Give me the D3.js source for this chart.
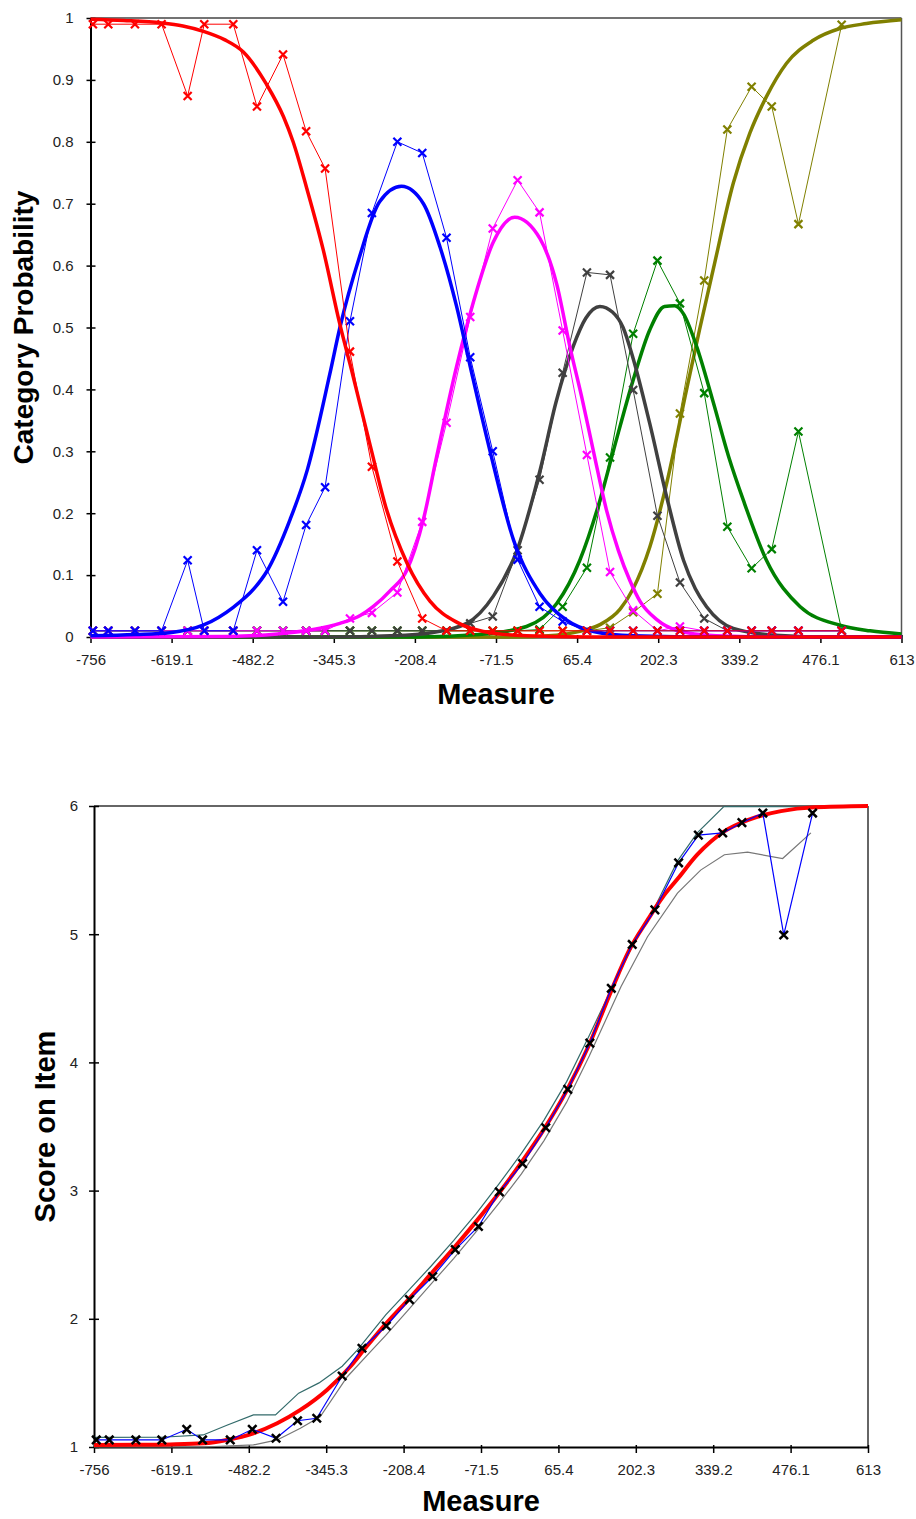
<!DOCTYPE html>
<meta charset="utf-8">
<script src="https://d3js.org/d3.v7.min.js"></script>
<style>
  body { margin: 0; background: #fff; }
</style>
<div id="chart"></div>

<script>

// shared axis ticks
var xTicks = [-756, -619.1, -482.2, -345.3, -208.4, -71.5, 65.4, 202.3, 339.2, 476.1, 613];
var xTickLabels = ["-756", "-619.1", "-482.2", "-345.3", "-208.4", "-71.5", "65.4", "202.3", "339.2", "476.1", "613"];
var probTicks = [0, 0.1, 0.2, 0.3, 0.4, 0.5, 0.6, 0.7, 0.8, 0.9, 1];
var probTickLabels = ["0", "0.1", "0.2", "0.3", "0.4", "0.5", "0.6", "0.7", "0.8", "0.9", "1"];
var scoreTicks = [1, 2, 3, 4, 5, 6];
var scoreTickLabels = ["1", "2", "3", "4", "5", "6"];

// ---- top chart: observed category frequencies
var obsMeasure = [-752, -726, -681, -636, -592, -564, -515, -475, -431, -392, -360, -318, -281, -238, -196, -155,
                  -115, -77, -35, 2, 41, 82, 121, 160, 201, 239, 280, 319, 360, 394, 439, 512];
var obsCat1 = [0.99, 0.99, 0.99, 0.99, 0.874, 0.99, 0.99, 0.857, 0.941, 0.817, 0.757, 0.461, 0.275, 0.122, 0.03, 0.01,
               0.01, 0.01, 0.01, 0.01, 0.01, 0.01, 0.01, 0.01, 0.01, 0.01, 0.01, 0.01, 0.01, 0.01, 0.01, 0.01];
var obsCat2 = [0.01, 0.01, 0.01, 0.01, 0.124, 0.01, 0.01, 0.14, 0.057, 0.181, 0.242, 0.51, 0.685, 0.80, 0.782, 0.645,
               0.452, 0.30, 0.125, 0.049, 0.025, 0.01, 0.01, 0.01, 0.01, 0.01, 0.01, 0.01, 0.01, 0.01, 0.01, 0.01];
var obsCat3 = [0.01, 0.01, 0.01, 0.01, 0.01, 0.01, 0.01, 0.01, 0.01, 0.01, 0.01, 0.03, 0.039, 0.072, 0.186, 0.346,
               0.517, 0.66, 0.738, 0.686, 0.495, 0.294, 0.105, 0.043, 0.01, 0.017, 0.01, 0.01, 0.01, 0.01, 0.01, 0.01];
var obsCat4 = [0.01, 0.01, 0.01, 0.01, 0.01, 0.01, 0.01, 0.01, 0.01, 0.01, 0.01, 0.01, 0.01, 0.01, 0.01, 0.01,
               0.022, 0.033, 0.14, 0.254, 0.427, 0.589, 0.585, 0.399, 0.196, 0.088, 0.03, 0.01, 0.01, 0.01, 0.01, 0.01];
var obsCat5 = [0.01, 0.01, 0.01, 0.01, 0.01, 0.01, 0.01, 0.01, 0.01, 0.01, 0.01, 0.01, 0.01, 0.01, 0.01, 0.01,
               0.01, 0.01, 0.01, 0.012, 0.049, 0.112, 0.29, 0.49, 0.608, 0.539, 0.394, 0.178, 0.111, 0.142, 0.332, 0.011];
var obsCat6 = [0.01, 0.01, 0.01, 0.01, 0.01, 0.01, 0.01, 0.01, 0.01, 0.01, 0.01, 0.01, 0.01, 0.01, 0.01, 0.01,
               0.01, 0.01, 0.01, 0.01, 0.01, 0.01, 0.015, 0.04, 0.07, 0.361, 0.576, 0.82, 0.889, 0.857, 0.667, 0.989];

// ---- top chart: model category probability curves [measure, probability]
var modelCat1 = [[-756, 0.998], [-700, 0.996], [-636, 0.992], [-600, 0.987], [-564, 0.978], [-530, 0.965], [-498, 0.945],
                 [-459, 0.893], [-430, 0.84], [-414, 0.80], [-391, 0.725], [-363, 0.625], [-335, 0.505], [-315, 0.43],
                 [-284, 0.31], [-256, 0.205], [-222, 0.12], [-183, 0.058], [-138, 0.024], [-93, 0.009], [-20, 0.002],
                 [100, 0], [613, 0]];
var modelCat2 = [[-756, 0.002], [-680, 0.004], [-622, 0.007], [-566, 0.019], [-515, 0.048], [-480, 0.078], [-459, 0.105],
                 [-419, 0.19], [-390, 0.27], [-352, 0.425], [-335, 0.5], [-302, 0.614], [-268, 0.703], [-231, 0.728],
                 [-194, 0.70], [-166, 0.63], [-138, 0.534], [-115, 0.437], [-82, 0.302], [-42, 0.157], [3, 0.07],
                 [48, 0.027], [93, 0.009], [160, 0.002], [300, 0], [613, 0]];
var modelCat3 = [[-756, 0], [-520, 0.001], [-440, 0.005], [-380, 0.012], [-335, 0.022], [-300, 0.035], [-279, 0.049],
                 [-250, 0.075], [-222, 0.108], [-194, 0.19], [-172, 0.29], [-138, 0.437], [-110, 0.54], [-76, 0.638],
                 [-40, 0.678], [3, 0.643], [31, 0.57], [53, 0.47], [75, 0.38], [93, 0.30], [115, 0.205], [135, 0.14],
                 [155, 0.09], [172, 0.057], [200, 0.028], [233, 0.011], [300, 0.002], [400, 0], [613, 0]];
var modelCat4 = [[-756, 0], [-350, 0], [-250, 0.002], [-180, 0.007], [-121, 0.022], [-76, 0.066], [-36, 0.14], [3, 0.27],
                 [30, 0.38], [59, 0.47], [80, 0.515], [104, 0.534], [125, 0.525], [143, 0.5], [160, 0.45], [188, 0.345],
                 [217, 0.225], [245, 0.124], [265, 0.078], [284, 0.049], [329, 0.014], [400, 0.003], [500, 0], [613, 0]];
var modelCat5 = [[-756, 0], [-200, 0], [-100, 0.004], [-20, 0.017], [31, 0.054], [70, 0.124], [104, 0.221], [127, 0.302],
                 [160, 0.415], [188, 0.496], [213, 0.534], [230, 0.535], [245, 0.522], [267, 0.47], [295, 0.38],
                 [321, 0.292], [346, 0.221], [385, 0.124], [442, 0.049], [509, 0.019], [560, 0.01], [613, 0.005]];
var modelCat6 = [[-756, 0], [-50, 0], [30, 0.003], [70, 0.009], [104, 0.02], [138, 0.045], [160, 0.078], [188, 0.145],
                 [217, 0.25], [250, 0.399], [272, 0.496], [295, 0.593], [329, 0.733], [357, 0.814], [385, 0.873],
                 [419, 0.927], [464, 0.964], [509, 0.983], [554, 0.991], [613, 0.997]];

// ---- bottom chart: expected score
var scoreMeasure = [-752, -729, -682, -636, -592, -564, -515, -476, -434, -396, -362, -317, -282, -239, -198, -157, -117,
                    -76, -39, 2, 43, 82, 121, 159, 196, 236, 278, 313, 356, 390, 427, 464, 515];
var scoreObs = [1.055, 1.055, 1.055, 1.055, 1.138, 1.055, 1.055, 1.138, 1.068, 1.205, 1.224, 1.554, 1.77, 1.944, 2.15,
                2.33, 2.54, 2.72, 2.99, 3.21, 3.49, 3.79, 4.15, 4.578, 4.92, 5.19, 5.557, 5.773, 5.79, 5.87, 5.945, 4.994, 5.945];
var scoreModel = [[-756, 1.015], [-680, 1.017], [-621, 1.02], [-562, 1.029], [-521, 1.055], [-474, 1.107], [-432, 1.185],
                  [-391, 1.289], [-344, 1.445], [-303, 1.626], [-280, 1.75], [-240, 1.96], [-200, 2.15], [-160, 2.35],
                  [-120, 2.55], [-80, 2.76], [-40, 2.98], [0, 3.22], [40, 3.48], [80, 3.78], [120, 4.14], [159, 4.56],
                  [190, 4.87], [223, 5.11], [250, 5.29], [276, 5.43], [311, 5.62], [358, 5.80], [400, 5.89], [459, 5.96],
                  [518, 5.99], [613, 6.0]];
var scoreUpper = [[-756, 1.075], [-636, 1.076], [-563, 1.094], [-521, 1.17], [-474, 1.25], [-435, 1.25], [-394, 1.42],
                  [-358, 1.50], [-317, 1.63], [-290, 1.757], [-240, 2.03], [-200, 2.22], [-160, 2.41], [-120, 2.61],
                  [-80, 2.82], [-40, 3.05], [0, 3.29], [40, 3.55], [80, 3.85], [120, 4.21], [161, 4.59], [199, 4.93],
                  [238, 5.23], [276, 5.57], [311, 5.79], [358, 5.995], [515, 5.995]];
var scoreLower = [[-756, 1.0], [-563, 1.0], [-474, 1.016], [-432, 1.055], [-391, 1.146], [-356, 1.236], [-308, 1.548],
                  [-264, 1.757], [-240, 1.87], [-200, 2.07], [-160, 2.27], [-120, 2.47], [-80, 2.68], [-40, 2.9],
                  [0, 3.13], [40, 3.39], [80, 3.69], [120, 4.05], [176, 4.59], [223, 4.98], [276, 5.32], [317, 5.50],
                  [359, 5.62], [400, 5.64], [462, 5.59], [512, 5.79]];

var font = "'Liberation Sans', Arial, sans-serif";

var svg = d3.select("#chart")
  .append("svg")
    .attr("width", 916)
    .attr("height", 1519);

function xMarks(g, data, xs, ys, color, r, w) {
  g.selectAll(null)
    .data(data)
    .enter()
    .append("path")
      .attr("transform", function(d) { return "translate(" + xs(d[0]) + "," + ys(d[1]) + ")"; })
      .attr("d", "M" + (-r) + "," + (-r) + "L" + r + "," + r + "M" + (-r) + "," + r + "L" + r + "," + (-r))
      .attr("fill", "none")
      .attr("stroke", color)
      .attr("stroke-width", w);
}

function styleAxis(ax) {
  ax.attr("font-family", font).attr("font-size", 15);
  ax.select(".domain").attr("stroke", "#000").attr("stroke-width", 2);
  ax.selectAll(".tick line").attr("stroke", "#000").attr("stroke-width", 1.5);
  ax.selectAll(".tick text").attr("fill", "#222");
}

// ================= top chart =================
var g1 = svg.append("g");
var x1 = d3.scaleLinear().domain([-756, 613]).range([90.5, 901.5]);
var y1 = d3.scaleLinear().domain([0, 1]).range([637, 18]);

g1.append("line")
  .attr("x1", x1(-756)).attr("x2", x1(613)).attr("y1", y1(1)).attr("y2", y1(1))
  .attr("stroke", "#444").attr("stroke-width", 1.5);
g1.append("line")
  .attr("x1", x1(613)).attr("x2", x1(613)).attr("y1", y1(1)).attr("y2", y1(0))
  .attr("stroke", "#555").attr("stroke-width", 1.5);

var xa1 = g1.append("g")
  .attr("transform", "translate(0," + y1(0) + ")")
  .call(d3.axisBottom(x1).tickValues(xTicks).tickFormat(function(d, i) { return xTickLabels[i]; })
    .tickSizeInner(6).tickSizeOuter(0).tickPadding(11));
styleAxis(xa1);
xa1.selectAll(".tick line").attr("y1", -2);

var ya1 = g1.append("g")
  .attr("transform", "translate(" + x1(-756) + ",0)")
  .call(d3.axisLeft(y1).tickValues(probTicks).tickFormat(function(d, i) { return probTickLabels[i]; })
    .tickSizeInner(4).tickSizeOuter(0).tickPadding(13));
styleAxis(ya1);
ya1.selectAll(".tick line").attr("x1", 5);

var cats = [
  {obs: obsCat6, model: modelCat6, color: "#808000"},
  {obs: obsCat5, model: modelCat5, color: "#008000"},
  {obs: obsCat4, model: modelCat4, color: "#404040"},
  {obs: obsCat3, model: modelCat3, color: "#ff00ff"},
  {obs: obsCat2, model: modelCat2, color: "#0000ff"},
  {obs: obsCat1, model: modelCat1, color: "#ff0000"}
];

var modelLine1 = d3.line()
  .x(function(d) { return x1(d[0]); })
  .y(function(d) { return y1(d[1]); })
  .curve(d3.curveMonotoneX);
var obsLine1 = d3.line()
  .x(function(d) { return x1(d[0]); })
  .y(function(d) { return y1(d[1]); });

cats.forEach(function(c) {
  var pts = obsMeasure.map(function(m, i) { return [m, c.obs[i]]; });
  g1.append("path")
    .attr("d", modelLine1(c.model))
    .attr("fill", "none")
    .attr("stroke", c.color)
    .attr("stroke-width", 3.5);
  g1.append("path")
    .attr("d", obsLine1(pts))
    .attr("fill", "none")
    .attr("stroke", c.color)
    .attr("stroke-width", 1);
  xMarks(g1, pts, x1, y1, c.color, 4, 2.2);
});

g1.append("text")
  .attr("transform", "translate(33," + ((y1(0) + y1(1)) / 2) + ") rotate(-90)")
  .attr("text-anchor", "middle")
  .attr("font-family", font).attr("font-weight", "bold").attr("font-size", 28)
  .text("Category Probability");
g1.append("text")
  .attr("x", (x1(-756) + x1(613)) / 2).attr("y", 704)
  .attr("text-anchor", "middle")
  .attr("font-family", font).attr("font-weight", "bold").attr("font-size", 29)
  .text("Measure");

// ================= bottom chart =================
var g2 = svg.append("g");
var x2 = d3.scaleLinear().domain([-756, 613]).range([94, 868]);
var y2 = d3.scaleLinear().domain([1, 6]).range([1447, 806]);

g2.append("line")
  .attr("x1", x2(-756)).attr("x2", x2(613)).attr("y1", y2(6)).attr("y2", y2(6))
  .attr("stroke", "#333").attr("stroke-width", 1.5);
g2.append("line")
  .attr("x1", x2(613)).attr("x2", x2(613)).attr("y1", y2(6)).attr("y2", y2(1))
  .attr("stroke", "#333").attr("stroke-width", 1.5);

var xa2 = g2.append("g")
  .attr("transform", "translate(0," + y2(1) + ")")
  .call(d3.axisBottom(x2).tickValues(xTicks).tickFormat(function(d, i) { return xTickLabels[i]; })
    .tickSizeInner(6).tickSizeOuter(0).tickPadding(11));
styleAxis(xa2);
xa2.selectAll(".tick line").attr("y1", -2);

var ya2 = g2.append("g")
  .attr("transform", "translate(" + x2(-756) + ",0)")
  .call(d3.axisLeft(y2).tickValues(scoreTicks).tickFormat(function(d, i) { return scoreTickLabels[i]; })
    .tickSizeInner(5).tickSizeOuter(0).tickPadding(11));
styleAxis(ya2);
ya2.selectAll(".tick line").attr("x1", 5);

var line2 = d3.line()
  .x(function(d) { return x2(d[0]); })
  .y(function(d) { return y2(d[1]); });
var smooth2 = d3.line()
  .x(function(d) { return x2(d[0]); })
  .y(function(d) { return y2(d[1]); })
  .curve(d3.curveMonotoneX);

g2.append("path")
  .attr("d", line2(scoreUpper))
  .attr("fill", "none").attr("stroke", "#336b6b").attr("stroke-width", 1.2);
g2.append("path")
  .attr("d", line2(scoreLower))
  .attr("fill", "none").attr("stroke", "#777").attr("stroke-width", 1.2);
g2.append("path")
  .attr("d", smooth2(scoreModel))
  .attr("fill", "none").attr("stroke", "#ff0000").attr("stroke-width", 4);

var scorePts = scoreMeasure.map(function(m, i) { return [m, scoreObs[i]]; });
g2.append("path")
  .attr("d", line2(scorePts))
  .attr("fill", "none").attr("stroke", "#0000ff").attr("stroke-width", 1.2);
xMarks(g2, scorePts, x2, y2, "#000", 4.2, 2.5);

g2.append("text")
  .attr("transform", "translate(55," + ((y2(1) + y2(6)) / 2) + ") rotate(-90)")
  .attr("text-anchor", "middle")
  .attr("font-family", font).attr("font-weight", "bold").attr("font-size", 29)
  .text("Score on Item");
g2.append("text")
  .attr("x", (x2(-756) + x2(613)) / 2).attr("y", 1511)
  .attr("text-anchor", "middle")
  .attr("font-family", font).attr("font-weight", "bold").attr("font-size", 29)
  .text("Measure");

</script>
